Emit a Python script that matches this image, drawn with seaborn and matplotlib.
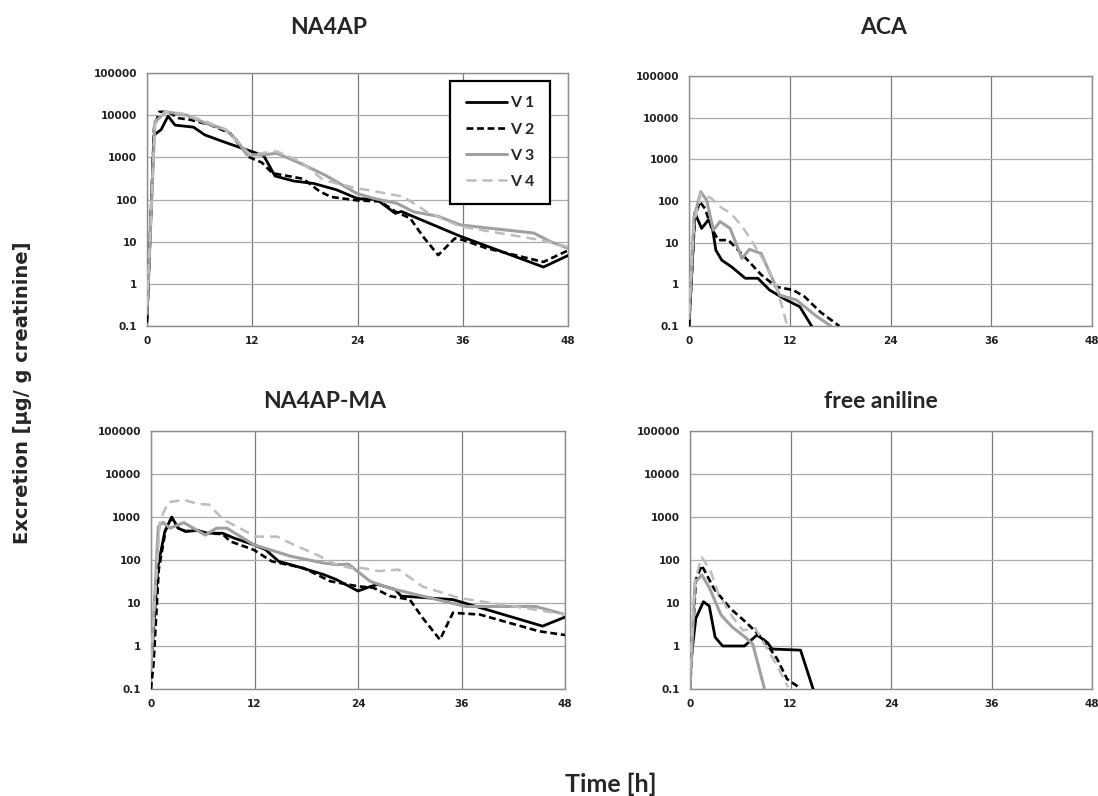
import matplotlib
matplotlib.use("Agg")
import numpy as np
import pandas as pd
import matplotlib.pyplot as plt
import seaborn as sns
from matplotlib import font_manager
from matplotlib.lines import Line2D
from matplotlib.ticker import LogLocator, MultipleLocator, NullFormatter

# ---------------- data ----------------
volunteers = ["V 1", "V 2", "V 3", "V 4"]
panel_titles = ["NA4AP", "ACA", "NA4AP-MA", "free aniline"]
y_tick_values = [0.1, 1, 10, 100, 1000, 10000, 100000]
y_tick_labels = ["0.1", "1", "10", "100", "1000", "10000", "100000"]
x_tick_values = [0, 12, 24, 36, 48]

# NA4AP
na4ap_v1_t = [0, 0.8, 1.6, 2.4, 3.2, 5.3, 6.6, 8.7, 11.0, 13.3, 14.6, 16.7, 19.0, 21.6, 24.0, 26.2, 28.3, 29.0, 35.7, 45.2, 48.0]
na4ap_v1_v = [0.15, 3400, 4500, 9500, 5800, 5200, 3400, 2350, 1600, 1100, 360, 275, 240, 170, 105, 100, 47, 52, 13.5, 2.5, 4.7]
na4ap_v2_t = [0, 0.8, 1.4, 2.4, 3.6, 4.9, 7.2, 9.5, 10.2, 11.7, 13.1, 14.3, 17.8, 19.7, 21.0, 24.0, 26.6, 28.3, 30.0, 31.5, 33.2, 35.1, 36.0, 38.7, 45.2, 48.0]
na4ap_v2_v = [0.12, 4900, 12000, 12000, 8500, 7800, 5900, 3700, 2400, 1000, 750, 420, 310, 155, 115, 95, 90, 52, 36, 13, 4.8, 12, 11, 7, 3.3, 6.2]
na4ap_v3_t = [0, 0.9, 2.2, 4.5, 6.8, 8.9, 10.2, 11.4, 13.3, 14.8, 17.5, 20.3, 23.9, 25.8, 28.5, 30.4, 33.2, 35.7, 37.2, 44.1, 46.0, 48.0]
na4ap_v3_v = [0.2, 7000, 12000, 10000, 6300, 4600, 2600, 1150, 1150, 1250, 720, 380, 140, 107, 81, 51, 40, 25, 23, 16, 10, 7]
na4ap_v4_t = [0, 0.9, 2.0, 4.0, 6.8, 9.1, 10.6, 11.8, 13.5, 14.8, 17.5, 20.1, 23.9, 25.0, 29.2, 31.9, 35.7, 44.8, 48.0]
na4ap_v4_v = [0.3, 6000, 12000, 11000, 7000, 4400, 2000, 1150, 1300, 1380, 800, 290, 185, 170, 117, 51, 23, 11, 7.6]

# ACA
aca_v1_t = [0, 0.7, 1.5, 2.3, 2.7, 3.2, 3.9, 5.1, 6.7, 8.2, 9.6, 11.6, 13.2, 14.6]
aca_v1_v = [0.1, 52, 22, 35, 29, 6.6, 3.8, 2.6, 1.4, 1.4, 0.73, 0.42, 0.29, 0.1]
aca_v2_t = [0, 0.7, 1.3, 1.9, 2.7, 3.5, 4.7, 6.6, 8.6, 10.4, 12.4, 13.8, 15.6, 17.9]
aca_v2_v = [0.1, 41, 96, 66, 22, 11.5, 11.5, 4.6, 1.7, 0.87, 0.73, 0.5, 0.22, 0.1]
aca_v3_t = [0, 0.6, 1.4, 2.1, 2.9, 3.7, 4.9, 6.3, 7.2, 8.6, 10.8, 12.8, 15.2, 16.9]
aca_v3_v = [0.15, 40, 166, 105, 20, 32, 22, 4.2, 6.9, 5.5, 0.55, 0.42, 0.17, 0.1]
aca_v4_t = [0, 0.6, 1.4, 2.7, 3.6, 5.0, 6.3, 7.6, 8.6, 9.6, 10.5, 11.3, 11.7]
aca_v4_v = [0.2, 30, 150, 115, 75, 50, 25, 10, 4.7, 2.0, 0.8, 0.2, 0.1]

# NA4AP-MA
ma_v1_t = [0, 0.8, 1.6, 2.4, 3.15, 4.0, 5.4, 6.5, 8.3, 9.6, 11.9, 13.3, 14.8, 16.9, 20.0, 21.5, 24.0, 25.4, 26.3, 28.3, 29.0, 35.0, 45.4, 48.0]
ma_v1_v = [0.3, 70, 460, 1000, 550, 460, 490, 420, 420, 325, 227, 173, 93, 71, 46, 35, 19, 24, 27, 20.6, 14.5, 12, 2.9, 4.7]
ma_v2_t = [0, 0.3, 0.9, 1.7, 2.4, 3.15, 4.0, 5.4, 6.5, 8.3, 9.2, 11.9, 14.0, 17.7, 20.8, 24.0, 25.8, 27.7, 30.0, 31.5, 33.5, 35.0, 38.1, 45.0, 48.0]
ma_v2_v = [0.1, 0.4, 60, 500, 950, 550, 470, 480, 420, 400, 270, 173, 93, 65, 32, 24.5, 22.5, 14.5, 12, 4.5, 1.4, 5.9, 5.4, 2.2, 1.8]
ma_v3_t = [0, 0.85, 1.4, 2.2, 3.8, 6.3, 7.6, 8.8, 11.9, 16.2, 20.0, 21.5, 22.9, 25.4, 27.7, 36.5, 44.6, 48.0]
ma_v3_v = [0.3, 600, 750, 550, 740, 380, 550, 550, 228, 122, 85, 78, 80, 32, 22, 8.3, 8.3, 5.4]
ma_v4_t = [0, 1.05, 2.0, 3.8, 5.5, 6.7, 8.4, 10.3, 12.1, 14.6, 16.6, 19.3, 21.2, 23.1, 24.5, 26.5, 28.7, 31.5, 35.8, 44.6, 48.0]
ma_v4_v = [0.5, 850, 2200, 2500, 2000, 1950, 860, 550, 350, 350, 225, 130, 83, 65, 65, 55, 60, 24, 13, 7, 5.4]

# free aniline
fa_v1_t = [0, 0.7, 1.6, 2.3, 3.0, 3.9, 6.5, 8.0, 9.25, 9.8, 13.2, 14.7]
fa_v1_v = [0.3, 4.4, 10.7, 8.5, 1.6, 1.0, 1.0, 1.8, 1.2, 0.85, 0.8, 0.1]
fa_v2_t = [0, 0.7, 1.4, 2.9, 4.8, 6.8, 8.8, 10.4, 11.6, 13.0]
fa_v2_v = [0.1, 35, 75, 21, 7.5, 3.4, 1.4, 0.5, 0.17, 0.11]
fa_v3_t = [0, 0.6, 1.4, 2.3, 3.7, 5.0, 6.6, 7.5, 8.9]
fa_v3_v = [0.1, 30, 45, 23, 5.3, 2.8, 1.6, 1.1, 0.1]
fa_v4_t = [0, 0.6, 1.4, 2.4, 3.4, 5.0, 6.3, 7.8, 9.0, 10.4, 11.7]
fa_v4_v = [0.3, 35, 115, 60, 16, 5, 2.3, 2.6, 1.0, 0.35, 0.11]

panel_series = [
    [(na4ap_v1_t, na4ap_v1_v), (na4ap_v2_t, na4ap_v2_v), (na4ap_v3_t, na4ap_v3_v), (na4ap_v4_t, na4ap_v4_v)],
    [(aca_v1_t, aca_v1_v), (aca_v2_t, aca_v2_v), (aca_v3_t, aca_v3_v), (aca_v4_t, aca_v4_v)],
    [(ma_v1_t, ma_v1_v), (ma_v2_t, ma_v2_v), (ma_v3_t, ma_v3_v), (ma_v4_t, ma_v4_v)],
    [(fa_v1_t, fa_v1_v), (fa_v2_t, fa_v2_v), (fa_v3_t, fa_v3_v), (fa_v4_t, fa_v4_v)],
]

# ---------------- styling ----------------
sns.set_style("white")
plt.rcParams["font.family"] = ["DejaVu Sans"]

installed = {f.name for f in font_manager.fontManager.ttflist}
if "Liberation Sans Narrow" in installed:
    TITLE_FONT, TITLE_SIZE, LEG_SIZE = "Liberation Sans Narrow", 19, 12
else:
    TITLE_FONT, TITLE_SIZE, LEG_SIZE = "Lato", 16.5, 11.5

PALETTE = {"V 1": "#000000", "V 2": "#000000", "V 3": "#a0a0a0", "V 4": "#bdbdbd"}
DASHES = {"V 1": "", "V 2": (2.6, 1.4), "V 3": "", "V 4": (4.0, 2.4)}
SIZES = {"V 1": 2.0, "V 2": 1.9, "V 3": 2.2, "V 4": 1.8}

W, H = 1098, 796
fig = plt.figure(figsize=(W / 100, H / 100), dpi=100)
fig.patch.set_facecolor("white")

boxes = [(147, 568, 73, 326), (689, 1092, 76, 326), (151, 565, 431, 689), (690, 1092, 431, 689)]
title_pos = [(329, 27), (884, 27), (325, 402), (881, 402)]

axes = []
for k, (x0, x1, y0, y1) in enumerate(boxes):
    ax = fig.add_axes([x0 / W, 1 - y1 / H, (x1 - x0) / W, (y1 - y0) / H])
    rows = []
    for name, (tt, vv) in zip(volunteers, panel_series[k]):
        for a, b in zip(tt, vv):
            rows.append((a, b, name))
    df = pd.DataFrame(rows, columns=["t", "v", "vol"])
    ax.set_yscale("log")
    sns.lineplot(data=df, x="t", y="v", hue="vol", style="vol", size="vol",
                 hue_order=volunteers, style_order=volunteers, size_order=volunteers,
                 palette=PALETTE, dashes=DASHES, sizes=SIZES,
                 estimator=None, sort=False, legend=False, ax=ax, zorder=3)
    ax.set_xlim(0, 48)
    ax.set_ylim(0.1, 1e5)
    ax.set_xticks(x_tick_values)
    ax.set_xticklabels([str(v) for v in x_tick_values])
    ax.set_yticks(y_tick_values)
    ax.set_yticklabels(y_tick_labels)
    ax.xaxis.set_minor_locator(MultipleLocator(2))
    ax.yaxis.set_minor_locator(LogLocator(base=10, subs=np.arange(2, 10)))
    ax.yaxis.set_minor_formatter(NullFormatter())
    ax.set_xlabel("")
    ax.set_ylabel("")
    ax.grid(True, which="major", axis="x", color="#7a7a7a", lw=0.9, zorder=0)
    ax.grid(True, which="major", axis="y", color="#ababab", lw=0.9, zorder=0)
    ax.grid(False, which="minor")
    ax.tick_params(which="major", direction="out", length=4, width=0.9, color="#8c8c8c",
                   labelsize=7.5, pad=3)
    ax.tick_params(which="minor", direction="out", length=2.5, width=0.7, color="#8c8c8c")
    for lab in ax.get_xticklabels() + ax.get_yticklabels():
        lab.set_fontweight("bold")
        lab.set_color("#222222")
    for sp in ax.spines.values():
        sp.set_visible(True)
        sp.set_color("#8c8c8c")
        sp.set_linewidth(1.0)
    tx, ty = title_pos[k]
    fig.text(tx / W, 1 - ty / H, panel_titles[k], ha="center", va="center",
             fontsize=TITLE_SIZE, fontweight="bold", family=TITLE_FONT)
    axes.append(ax)

# legend in the first panel
handles = []
for name in volunteers:
    ls = "-" if DASHES[name] == "" else (0, DASHES[name])
    handles.append(Line2D([], [], color=PALETTE[name], lw=SIZES[name], linestyle=ls))
leg = axes[0].legend(handles, volunteers, loc="upper right", bbox_to_anchor=(0.957, 0.968),
                     borderaxespad=0, frameon=True, fancybox=False, framealpha=1,
                     edgecolor="black", handlelength=2.6, handletextpad=0.2,
                     labelspacing=0.75, borderpad=0.95,
                     prop={"family": TITLE_FONT, "weight": "bold", "size": LEG_SIZE})
leg.get_frame().set_linewidth(1.6)
leg.set_zorder(10)

fig.text(23 / W, 1 - 393 / H, "Excretion [µg/ g creatinine]", rotation=90,
         ha="center", va="center", fontsize=14, fontweight="bold", family="DejaVu Sans")
fig.text(611 / W, 1 - 784 / H, "Time [h]", ha="center", va="center",
         fontsize=TITLE_SIZE + 1.5, fontweight="bold", family=TITLE_FONT)

fig.savefig("out.png", dpi=100, facecolor="white")
